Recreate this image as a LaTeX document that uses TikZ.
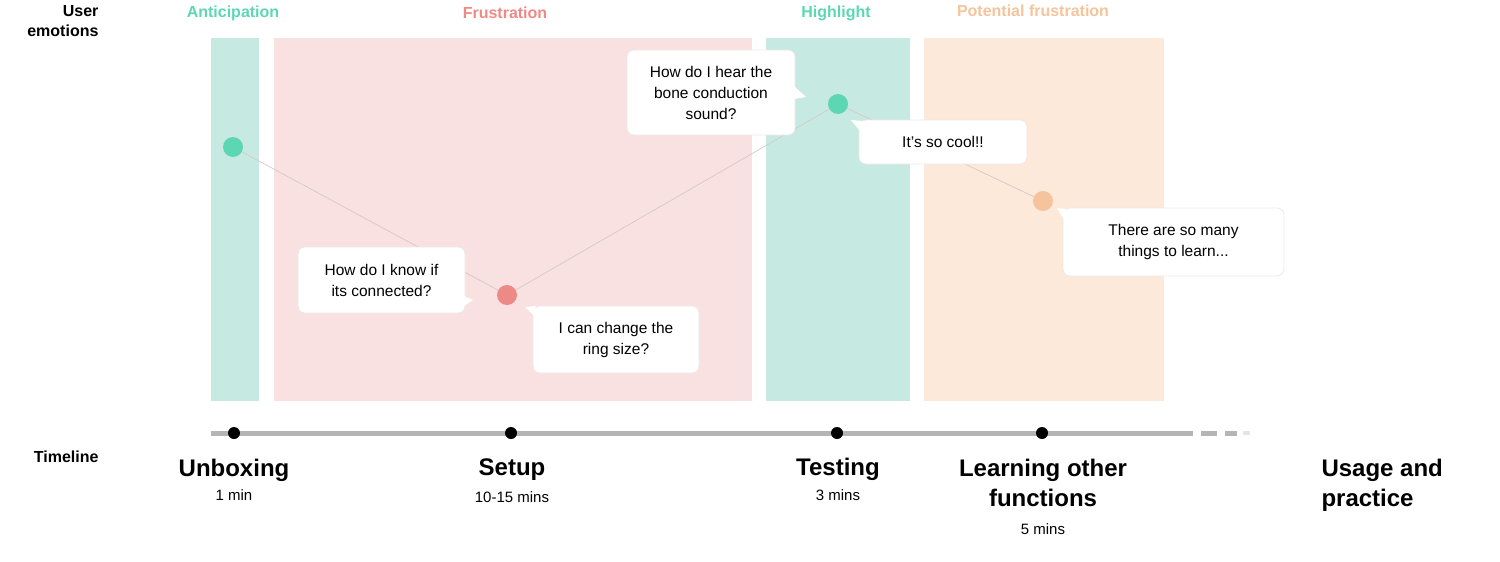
\documentclass[tikz,border=0pt]{standalone}
\usepackage{fontspec}
\setmainfont{Liberation Sans}
\definecolor{tealbg}{HTML}{C6EAE1}
\definecolor{pinkbg}{HTML}{F9E1E1}
\definecolor{peachbg}{HTML}{FCE9DA}
\definecolor{tealfg}{HTML}{5DD6B4}
\definecolor{redfg}{HTML}{EE8A86}
\definecolor{peachfg}{HTML}{F5C49C}
\definecolor{tlgrey}{HTML}{B4B4B4}
\definecolor{linkgrey}{HTML}{D6C8C8}
\definecolor{bubline}{HTML}{F0E8E8}
\tikzset{
  band/.style={draw=none},
  hdr/.style={font=\bfseries\fontsize{16}{18}\selectfont},
  side/.style={font=\bfseries\fontsize{16}{20}\selectfont, align=right, anchor=east},
  emo/.style={circle, minimum size=20pt, inner sep=0pt, draw=none},
  bubble/.style={fill=white, draw=bubline, line width=0.8pt, rounded corners=7pt, align=center, font=\fontsize{15.5}{21}\selectfont},
  tail/.style={fill=white, draw=none},
  tdot/.style={circle, fill=black, minimum size=12pt, inner sep=0pt},
  stage/.style={font=\bfseries\fontsize{24}{30}\selectfont, align=center},
  dur/.style={font=\fontsize{15}{18}\selectfont},
  link/.style={draw=linkgrey, line width=0.7pt}
}
\begin{document}
\begin{tikzpicture}[x=1pt,y=-1pt]
\useasboundingbox (0,0) rectangle (1500,562);
% bands
\fill[tealbg] (211,38) rectangle (259,401);
\fill[pinkbg] (274,38) rectangle (752,401);
\fill[tealbg] (766,38) rectangle (910,401);
\fill[peachbg] (924,38) rectangle (1164,401);
% headers
\node[side] (ue) at (102,21) {User\\emotions};
\node[hdr, text=tealfg] (h1) at (233,13) {Anticipation};
\node[hdr, text=redfg] (h2) at (505,13) {Frustration};
\node[hdr, text=tealfg] (h3) at (836,13) {Highlight};
\node[hdr, text=peachfg] (h4) at (1033,11) {Potential frustration};
% emotion dots
\node[emo, fill=tealfg] (e1) at (233,147) {};
\node[emo, fill=redfg] (e2) at (507,295) {};
\node[emo, fill=tealfg] (e3) at (838,104) {};
\node[emo, fill=peachfg] (e4) at (1043,201) {};
\draw[link] (e1) -- (e2) -- (e3) -- (e4);
% bubbles
\node[bubble, minimum width=168pt, minimum height=85pt] (b1) at (711,92.5) {How do I hear the\\bone conduction\\sound?};
\fill[white] (794,86) -- (806,97) -- (794,99) -- cycle;
\node[bubble, minimum width=168pt, minimum height=44pt] (b2) at (943,142) {It’s so cool!!};
\fill[white] (862,121) -- (851,120) -- (860,131) -- cycle;
\node[bubble, minimum width=167pt, minimum height=66pt] (b3) at (381.5,280) {How do I know if\\its connected?};
\fill[white] (464,296) -- (473,300) -- (464,306) -- cycle;
\node[bubble, minimum width=166pt, minimum height=67pt] (b4) at (616,339.5) {I can change the\\ring size?};
\fill[white] (536,306) -- (525,307) -- (534,316) -- cycle;
\node[bubble, minimum width=221pt, minimum height=68pt] (b5) at (1173.5,242) {There are so many\\things to learn...};
\fill[white] (1066,209) -- (1057,208) -- (1064,220) -- cycle;
% timeline
\node[side] (tl) at (102,457) {Timeline};
\coordinate (ts) at (211,433);
\coordinate (te) at (1193,433);
\draw[tlgrey, line width=5pt] (ts) -- (te);
\draw[tlgrey, line width=5pt] (1201,433) -- (1217,433);
\draw[tlgrey, line width=5pt] (1225,433) -- (1237,433);
\draw[tlgrey!35, line width=4pt] (1243,433) -- (1250,433);
\node[tdot] (t1) at (234,433) {};
\node[tdot] (t2) at (511,433) {};
\node[tdot] (t3) at (837,433) {};
\node[tdot] (t4) at (1042,433) {};
% stages
\node[stage] (s1) at (234,470) {Unboxing};
\node[dur] (d1) at (234,495) {1 min};
\node[stage] (s2) at (512,470) {Setup};
\node[dur] (d2) at (512,497) {10-15 mins};
\node[stage] (s3) at (838,469) {Testing};
\node[dur] (d3) at (838,495) {3 mins};
\node[stage] (s4) at (1043,483) {Learning other\\functions};
\node[dur] (d4) at (1043,529) {5 mins};
\node[stage, align=left, anchor=west] (s5) at (1318,485) {Usage and\\practice};
\end{tikzpicture}
\end{document}
